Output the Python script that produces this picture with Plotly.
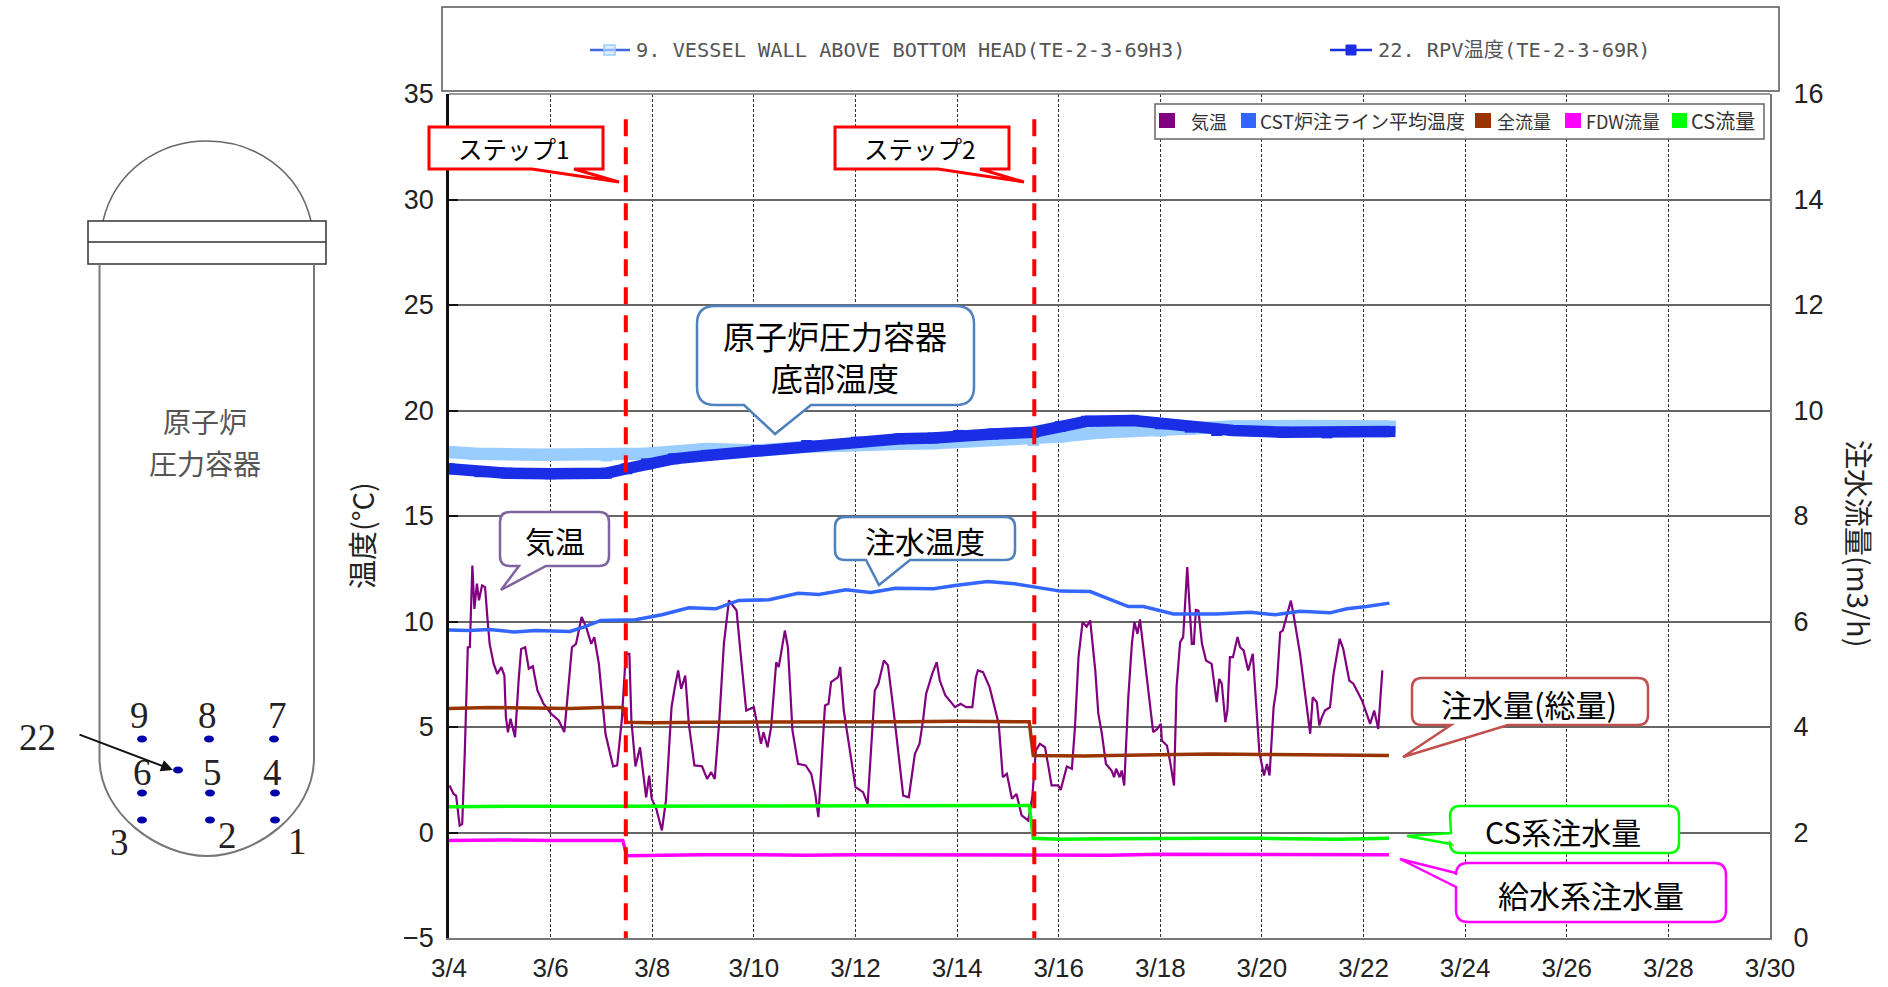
import plotly.graph_objects as go

W, H = 1888, 987
TICK_FONT = "Liberation Sans"
MONO_FONT = "DejaVu Sans Mono, Noto Sans CJK JP"
JP_FONT = "Noto Sans CJK JP"
SERIF = "Liberation Serif"

# ---------- data (days after 3/4) ----------
x_tick_days = [0, 2, 4, 6, 8, 10, 12, 14, 16, 18, 20, 22, 24, 26]
x_tick_labels = ["3/4", "3/6", "3/8", "3/10", "3/12", "3/14", "3/16", "3/18", "3/20", "3/22", "3/24", "3/26", "3/28", "3/30"]
step_days = [3.48, 11.52]

air_days = [0.01, 0.09, 0.14, 0.21, 0.26, 0.31, 0.37, 0.41, 0.46, 0.50, 0.55, 0.59, 0.65, 0.71, 0.76, 0.80, 0.88, 0.95, 1.03, 1.09,
            1.12, 1.16, 1.21, 1.30, 1.37, 1.42, 1.50, 1.57, 1.65, 1.74, 1.86, 2.01, 2.16, 2.27, 2.35, 2.42, 2.50, 2.61, 2.70, 2.80,
            2.86, 2.95, 3.08, 3.23, 3.31, 3.40, 3.48, 3.55, 3.59, 3.67, 3.76, 3.88, 3.94, 3.99, 4.08, 4.19, 4.27, 4.38, 4.44, 4.51,
            4.57, 4.65, 4.72, 4.83, 4.98, 5.08, 5.16, 5.23, 5.32, 5.41, 5.51, 5.66, 5.74, 5.85, 6.00, 6.08, 6.14, 6.19, 6.27, 6.34,
            6.44, 6.49, 6.61, 6.67, 6.76, 6.87, 7.02, 7.13, 7.21, 7.27, 7.36, 7.40, 7.47, 7.52, 7.66, 7.70, 7.77, 8.00, 8.15, 8.24,
            8.38, 8.45, 8.56, 8.64, 8.75, 8.94, 9.05, 9.17, 9.26, 9.33, 9.39, 9.51, 9.60, 9.66, 9.77, 9.88, 9.96, 10.07, 10.18, 10.30,
            10.37, 10.41, 10.51, 10.64, 10.71, 10.82, 10.90, 10.98, 11.08, 11.17, 11.27, 11.40, 11.48, 11.55, 11.63, 11.73, 11.80, 11.86, 11.99, 12.04,
            12.16, 12.26, 12.32, 12.39, 12.47, 12.55, 12.62, 12.72, 12.78, 12.85, 12.93, 13.04, 13.09, 13.13, 13.20, 13.24, 13.29, 13.37, 13.44, 13.49,
            13.55, 13.60, 13.68, 13.80, 13.86, 13.94, 14.01, 14.03, 14.13, 14.19, 14.27, 14.32, 14.39, 14.45, 14.53, 14.62, 14.66, 14.70, 14.75, 14.82,
            14.90, 15.01, 15.11, 15.16, 15.21, 15.28, 15.32, 15.37, 15.43, 15.52, 15.57, 15.64, 15.73, 15.82, 15.89, 15.95, 16.04, 16.10, 16.15, 16.23,
            16.29, 16.36, 16.41, 16.57, 16.62, 16.69, 16.75, 16.85, 16.95, 17.00, 17.08, 17.13, 17.18, 17.24, 17.34, 17.41, 17.53, 17.60, 17.72, 17.80,
            17.97, 18.13, 18.21, 18.29, 18.37]
air_temp = [2.23, 1.83, 1.75, 0.33, 0.41, 3.73, 8.78, 8.78, 12.65, 10.60, 11.79, 11.00, 11.71, 11.63, 10.05, 8.94, 7.99, 7.52, 7.84, 7.44,
            5.47, 4.75, 5.39, 4.52, 7.20, 8.70, 8.78, 7.76, 7.88, 6.73, 6.10, 5.63, 5.31, 4.76, 6.89, 8.78, 8.94, 10.21, 9.73, 8.94,
            9.26, 7.99, 4.68, 3.13, 3.18, 5.31, 8.47, 8.47, 5.31, 3.13, 4.04, 1.67, 2.70, 1.60, 1.12, 0.10, 1.52, 5.94, 6.81, 7.68,
            6.81, 7.44, 5.15, 3.18, 3.14, 2.54, 2.86, 2.54, 5.31, 8.94, 11.00, 10.52, 8.47, 5.78, 5.94, 4.99, 4.20, 4.75, 4.04, 4.99,
            8.07, 7.84, 9.57, 8.78, 4.84, 3.25, 3.18, 2.78, 1.83, 0.73, 4.68, 6.02, 6.10, 7.13, 7.36, 7.84, 5.78, 2.15, 1.91, 1.36,
            6.73, 7.05, 8.15, 7.92, 5.78, 1.75, 1.67, 3.73, 4.20, 5.31, 6.57, 7.52, 8.07, 7.20, 6.49, 6.18, 5.94, 6.10, 5.94, 5.94,
            7.36, 7.68, 7.60, 6.89, 6.26, 5.15, 2.62, 2.78, 1.60, 1.83, 0.81, 0.57, 1.67, 3.89, 4.20, 4.04, 3.10, 2.23, 2.23, 2.02,
            3.13, 3.02, 4.99, 8.31, 9.97, 9.76, 10.05, 7.68, 5.63, 4.68, 3.25, 2.94, 2.62, 3.02, 2.62, 2.94, 2.23, 6.41, 8.94, 9.97,
            9.42, 10.10, 8.47, 5.94, 4.76, 4.91, 5.15, 4.36, 4.12, 3.40, 2.23, 6.89, 9.02, 9.26, 12.58, 8.94, 8.94, 10.55, 10.52, 8.94,
            8.15, 7.99, 6.18, 7.28, 7.05, 5.23, 5.78, 8.31, 8.31, 9.26, 8.78, 8.63, 7.68, 8.47, 6.10, 3.81, 2.70, 3.25, 2.70, 5.94,
            6.89, 9.49, 9.57, 10.99, 10.36, 9.26, 8.47, 6.57, 4.68, 6.41, 6.18, 5.07, 5.47, 5.78, 5.94, 7.52, 9.18, 8.71, 7.20, 7.05,
            6.26, 5.15, 5.78, 4.91, 7.68]

cst_days = [0.0, 0.39, 0.80, 1.29, 1.70, 2.38, 2.65, 2.99, 3.67, 4.19, 4.72, 5.25, 5.70, 6.30, 6.87, 7.28, 7.81, 8.30, 8.79, 9.54, 9.96, 10.60,
            11.13, 11.50, 12.03, 12.62, 13.08, 13.37, 13.67, 14.26, 15.11, 15.77, 16.26, 16.75, 17.34, 17.67, 18.06, 18.51]
cst_temp = [9.60, 9.57, 9.62, 9.50, 9.57, 9.53, 9.73, 10.05, 10.08, 10.32, 10.65, 10.60, 11.00, 11.03, 11.34, 11.28, 11.50, 11.37, 11.58, 11.55, 11.71, 11.90,
            11.79, 11.66, 11.44, 11.42, 11.00, 10.71, 10.71, 10.36, 10.36, 10.44, 10.32, 10.49, 10.41, 10.60, 10.71, 10.87]

wall_days = [0.0, 0.50, 1.79, 3.10, 3.89, 5.07, 6.06, 7.04, 8.02, 8.88, 9.53, 10.32, 11.50, 12.03, 12.80, 13.47, 14.00, 14.59, 15.44, 16.75, 18.52]
wall_temp = [18.03, 17.95, 17.90, 17.87, 17.95, 18.18, 18.10, 18.28, 18.42, 18.42, 18.45, 18.55, 18.61, 18.77, 18.96, 19.05, 19.05, 19.13, 19.24, 19.26, 19.24]

rpv_days = [0.0, 0.61, 1.14, 1.99, 3.10, 3.50, 3.89, 4.42, 5.07, 6.06, 7.04, 8.02, 8.88, 9.53, 10.03, 10.71, 11.50, 12.03, 12.55, 13.47, 14.00, 14.59, 15.11, 15.44, 16.42, 17.28, 18.33, 18.52]
rpv_temp = [17.24, 17.10, 17.03, 17.00, 17.03, 17.24, 17.47, 17.71, 17.87, 18.10, 18.34, 18.50, 18.66, 18.70, 18.82, 18.89, 18.97, 19.24, 19.49, 19.53, 19.37, 19.21, 19.05, 19.05, 18.97, 18.94, 19.00, 19.00]

total_days = [0.0, 0.8, 1.6, 2.4, 3.0, 3.42, 3.50, 4.0, 5.0, 6.0, 7.0, 8.0, 9.0, 10.0, 11.0, 11.42, 11.50, 12.0, 12.5, 13.0, 14.0, 15.0, 16.0, 17.0, 18.0, 18.5]
total_flow = [4.35, 4.37, 4.36, 4.35, 4.37, 4.37, 4.09, 4.08, 4.09, 4.09, 4.10, 4.10, 4.10, 4.11, 4.10, 4.10, 3.46, 3.45, 3.45, 3.46, 3.48, 3.49, 3.48, 3.47, 3.46, 3.46]

cs_days = [0.0, 1.0, 2.0, 3.0, 4.0, 5.0, 6.0, 7.0, 8.0, 9.0, 10.0, 11.0, 11.42, 11.50, 12.0, 13.0, 14.0, 15.0, 16.0, 17.0, 17.5, 18.5]
cs_flow = [2.49, 2.50, 2.50, 2.50, 2.50, 2.50, 2.51, 2.51, 2.51, 2.50, 2.51, 2.51, 2.51, 1.89, 1.87, 1.88, 1.89, 1.89, 1.89, 1.88, 1.87, 1.89]

fdw_days = [0.0, 1.0, 2.0, 3.0, 3.42, 3.50, 4.0, 5.0, 6.0, 7.0, 8.0, 9.0, 10.0, 11.0, 12.0, 13.0, 14.0, 15.0, 16.0, 17.0, 18.0, 18.5]
fdw_flow = [1.85, 1.86, 1.85, 1.85, 1.85, 1.56, 1.57, 1.58, 1.58, 1.57, 1.58, 1.58, 1.58, 1.58, 1.57, 1.57, 1.59, 1.59, 1.59, 1.58, 1.58, 1.58]

temp_ticks = [-5, 0, 5, 10, 15, 20, 25, 30, 35]
flow_ticks = [0, 2, 4, 6, 8, 10, 12, 14, 16]

C_AIR, C_CST, C_TOTAL, C_FDW, C_CS = "#800080", "#3366FF", "#993300", "#FF00FF", "#00FF00"
C_WALL, C_RPV = "#99CCFF", "#1A2EE6"

# ---------- helpers: pixel positions -> paper fractions ----------
def px(x): return x / W
def py(y): return 1 - y / H

def path(cmds):
    out = []
    for c in cmds:
        if isinstance(c, str):
            out.append(c)
        else:
            out.append(f"{px(c[0]):.5f},{py(c[1]):.5f}")
    return " ".join(out)

shapes, annots = [], []

def paper_path(cmds, color, width=2, fill=None):
    shapes.append(dict(type="path", xref="paper", yref="paper", path=path(cmds),
                       line=dict(color=color, width=width),
                       fillcolor=fill if fill else "rgba(0,0,0,0)"))

def rect(x0, y0, x1, y1, color, width=2, fill=None):
    shapes.append(dict(type="rect", xref="paper", yref="paper", x0=px(x0), x1=px(x1), y0=py(y0), y1=py(y1),
                       line=dict(color=color, width=width), fillcolor=fill if fill else "rgba(0,0,0,0)"))

def text(x, y, s, size, color="black", font=JP_FONT, anchor="center", angle=0):
    annots.append(dict(xref="paper", yref="paper", x=px(x), y=py(y), text=s, showarrow=False, textangle=angle,
                       xanchor=anchor, yanchor="middle", font=dict(family=font, size=size, color=color)))

def callout(x0, y0, x1, y1, tail, color, r=12, width=2.5):
    """Rounded box with a pointed tail; tail = (a, tip, b) anchored on the box edge."""
    a, tip, b = tail
    cmds = ["M", (x0 + r, y0), "L", (x1 - r, y0), "Q", (x1, y0), (x1, y0 + r), "L", (x1, y1 - r), "Q", (x1, y1), (x1 - r, y1)]
    if a[1] == y1 and b[1] == y1:
        cmds += ["L", b, "L", tip, "L", a, "L", (x0 + r, y1), "Q", (x0, y1), (x0, y1 - r), "L", (x0, y0 + r)]
    else:
        cmds += ["L", (x0 + r, y1), "Q", (x0, y1), (x0, y1 - r), "L", b, "L", tip, "L", a, "L", (x0, y0 + r)]
    cmds += ["Q", (x0, y0), (x0 + r, y0), "Z"]
    paper_path(cmds, color, width, "white")

# ---------- top legend ----------
rect(442, 7, 1779, 91, "#555555", 1.5, "white")
shapes.append(dict(type="line", xref="paper", yref="paper", x0=px(590), x1=px(630), y0=py(50), y1=py(50), line=dict(color="#4169E1", width=2.5)))
rect(604, 45, 615, 55, "#99CCFF", 1.5, "rgba(200,225,255,0.6)")
text(634, 50, "9. VESSEL WALL ABOVE BOTTOM HEAD(TE-2-3-69H3)", 20.3, "#555555", MONO_FONT, "left")
shapes.append(dict(type="line", xref="paper", yref="paper", x0=px(1330), x1=px(1372), y0=py(50), y1=py(50), line=dict(color=C_RPV, width=2.5)))
rect(1346, 45, 1356, 55, C_RPV, 1, C_RPV)
text(1376, 50, "22. RPV温度(TE-2-3-69R)", 20.3, "#555555", MONO_FONT, "left")

# ---------- second legend ----------
rect(1155, 104, 1764, 139, "#666666", 1.5, "white")
for x0, x1, col, tx, s, fs in [(1159, 1175, C_AIR, 1189, "気温", 18), (1241, 1256, C_CST, 1258, "CST炉注ライン平均温度", 19),
                               (1475, 1491, C_TOTAL, 1495, "全流量", 18), (1565, 1581, C_FDW, 1584, "FDW流量", 18), (1672, 1687, C_CS, 1689, "CS流量", 20)]:
    rect(x0, 113, x1, 128, col, 0, col)
    text(tx, 121, s, fs, "#333333", JP_FONT, "left")

# ---------- top frame line ----------
shapes.append(dict(type="line", xref="paper", yref="paper", x0=px(449), x1=px(1770), y0=py(94), y1=py(94), line=dict(color="#777777", width=1.5)))

# ---------- step lines ----------
for d in step_days:
    shapes.append(dict(type="line", xref="x", yref="y", x0=d, x1=d, y0=33.8, y1=-5,
                       line=dict(color="#FF0000", width=4, dash="17px,11px")))

# ---------- callouts ----------
callout(429, 127, 603, 169, ((532, 169), (619, 182), (574, 169)), "#FF0000", r=0, width=3)
text(514, 148, "ステップ1", 24.5)
callout(835, 127, 1009, 169, ((938, 169), (1024, 182), (980, 169)), "#FF0000", r=0, width=3)
text(920, 148, "ステップ2", 24.5)
callout(697, 306, 974, 405, ((744, 405), (775, 434), (811, 405)), "#4F81BD", r=18)
text(835, 356, "原子炉圧力容器<br>底部温度", 32)
callout(500, 512, 609, 566, ((519, 566), (501, 590), (546, 566)), "#8064A2", r=10)
text(555, 540, "気温", 30)
callout(835, 517, 1015, 560, ((866, 560), (879, 585), (910, 560)), "#4F81BD", r=10)
text(925, 540, "注水温度", 30)
callout(1412, 678, 1648, 725, ((1451, 725), (1403, 757), (1508, 725)), "#C0504D", r=10)
text(1529, 703, "注水量(総量)", 31)
callout(1450, 806, 1679, 853, ((1451, 833), (1407, 836), (1451, 844)), "#00FF00", r=10)
text(1563, 831, "CS系注水量", 30)
callout(1456, 863, 1726, 922, ((1456, 873), (1400, 859), (1456, 887)), "#FF00FF", r=12)
text(1591, 894, "給水系注水量", 31)

# ---------- axis titles ----------
text(361, 536, "温度(°C)", 29, "#222222", JP_FONT, "center", -90)
text(1860, 544, "注水流量(m3/h)", 29, "#222222", JP_FONT, "center", 90)

# ---------- vessel diagram ----------
VC = "#777777"
paper_path(["M", (103, 221), "C", (115, 170), (160, 141), (207, 141), "C", (254, 141), (299, 170), (311, 221)], "#666666", 1.5)
rect(88, 221, 326, 264, "#333333", 1.5)
shapes.append(dict(type="line", xref="paper", yref="paper", x0=px(88), x1=px(326), y0=py(242), y1=py(242), line=dict(color="#333333", width=1.5)))
paper_path(["M", (99.5, 264), "L", (99.5, 758), "C", (99.5, 815), (160, 856), (207, 856), "C", (254, 856), (314, 815), (314, 758), "L", (314, 264)], VC, 2)
text(205, 421, "原子炉", 28, "#555555")
text(205, 463, "圧力容器", 28, "#555555")
for x, y, s in [(139, 715, "9"), (207, 715, "8"), (277, 715, "7"), (142, 772, "6"), (212, 772, "5"), (272, 772, "4"),
                (119, 842, "3"), (227, 835, "2"), (297, 841, "1"), (37, 737, "22")]:
    text(x, y, s, 37, "#222222", SERIF)
for x, y in [(142, 739), (209, 739), (274, 739), (178, 770), (142, 793), (210, 793), (275, 793), (142, 820), (210, 820), (275, 820)]:
    shapes.append(dict(type="circle", xref="paper", yref="paper", x0=px(x - 5), x1=px(x + 5), y0=py(y - 3.5), y1=py(y + 3.5),
                       line=dict(width=0), fillcolor="#0000AA"))
annots.append(dict(xref="paper", yref="paper", x=px(173), y=py(770), ax=-95, ay=-36, text="", showarrow=True,
                   arrowhead=2, arrowsize=1.2, arrowwidth=2, arrowcolor="#111111"))

# ---------- figure ----------
fig = go.Figure()
fig.add_trace(go.Scatter(x=air_days, y=air_temp, name="気温", mode="lines", line=dict(color=C_AIR, width=2.2)))
fig.add_trace(go.Scatter(x=cst_days, y=cst_temp, name="CST炉注ライン平均温度", mode="lines", line=dict(color=C_CST, width=3.5)))
fig.add_trace(go.Scatter(x=wall_days, y=wall_temp, name="9. VESSEL WALL ABOVE BOTTOM HEAD(TE-2-3-69H3)", mode="lines+markers",
                         line=dict(color=C_WALL, width=12.5), marker=dict(symbol="square", size=12, color=C_WALL)))
fig.add_trace(go.Scatter(x=rpv_days, y=rpv_temp, name="22. RPV温度(TE-2-3-69R)", mode="lines+markers",
                         line=dict(color=C_RPV, width=11.5), marker=dict(symbol="square", size=11, color=C_RPV)))
fig.add_trace(go.Scatter(x=total_days, y=total_flow, name="全流量", yaxis="y2", mode="lines", line=dict(color=C_TOTAL, width=3.5)))
fig.add_trace(go.Scatter(x=cs_days, y=cs_flow, name="CS流量", yaxis="y2", mode="lines", line=dict(color=C_CS, width=3.5)))
fig.add_trace(go.Scatter(x=fdw_days, y=fdw_flow, name="FDW流量", yaxis="y2", mode="lines", line=dict(color=C_FDW, width=3.5)))

tick_font = dict(family=TICK_FONT, size=27, color="#222222")
x_tick_font = dict(family=TICK_FONT, size=26, color="#222222")
fig.update_layout(
    width=W, height=H, showlegend=False, paper_bgcolor="white", plot_bgcolor="white",
    margin=dict(l=0, r=0, t=0, b=0), shapes=shapes, annotations=annots,
    xaxis=dict(domain=[px(449), px(1770)], range=[0, 26], tickmode="array", tickvals=x_tick_days, ticktext=x_tick_labels,
               tickfont=x_tick_font, ticklabelstandoff=6, showgrid=True, gridcolor="#333333", griddash="3px,2px", gridwidth=1.3,
               showline=True, linecolor="#777777", linewidth=2, zeroline=False, ticks="", automargin=False),
    yaxis=dict(domain=[py(938), py(94)], range=[-5, 35], tickmode="array", tickvals=temp_ticks,
               tickfont=tick_font, ticklabelstandoff=7, showgrid=True, gridcolor="#666666", gridwidth=1.5,
               showline=True, linecolor="#111111", linewidth=2.5, zeroline=False, ticks="inside", ticklen=9, tickwidth=2, tickcolor="#111111",
               automargin=False),
    yaxis2=dict(overlaying="y", side="right", range=[0, 16], tickmode="array", tickvals=flow_ticks,
                tickfont=tick_font, ticklabelstandoff=16, showgrid=False, zeroline=False, showline=True, linecolor="#777777", linewidth=2,
                ticks="", automargin=False),
)
fig.write_html("out.html", config=dict(displayModeBar=False),
               post_script="document.body.style.margin='0';document.body.style.overflow='hidden';")
